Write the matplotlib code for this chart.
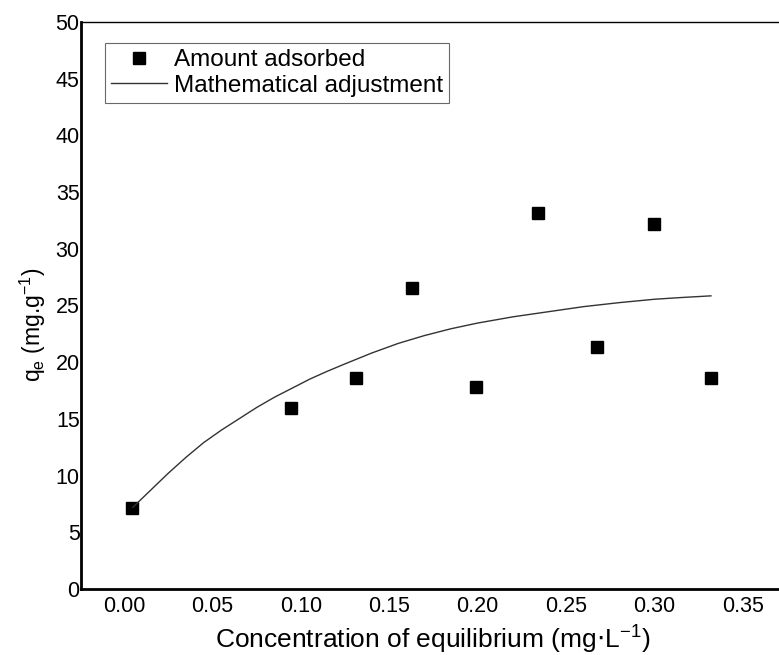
import matplotlib.pyplot as plt

plt.rcParams['font.family'] = ['Liberation Sans', 'DejaVu Sans']

# measured points
ce = [0.0045, 0.0945, 0.131, 0.163, 0.199, 0.234, 0.2675, 0.300, 0.332]
qe = [7.1, 16.0, 18.6, 26.5, 17.8, 33.2, 21.3, 32.2, 18.6]

# fitted curve
fit_x = [0.005, 0.015, 0.025, 0.035, 0.045, 0.055, 0.065, 0.075, 0.085, 0.095,
         0.105, 0.115, 0.125, 0.14, 0.155, 0.17, 0.185, 0.20, 0.22, 0.24,
         0.26, 0.28, 0.30, 0.315, 0.332]
fit_y = [7.2, 8.7, 10.2, 11.6, 12.9, 14.0, 15.0, 16.0, 16.9, 17.7,
         18.5, 19.2, 19.85, 20.8, 21.65, 22.35, 22.95, 23.45, 24.0, 24.45,
         24.9, 25.25, 25.55, 25.7, 25.85]

xticks = [0.00, 0.05, 0.10, 0.15, 0.20, 0.25, 0.30, 0.35]
yticks = [0, 5, 10, 15, 20, 25, 30, 35, 40, 45, 50]

fig = plt.figure(figsize=(7.79, 6.55), dpi=100)
ax = fig.add_axes([0.104, 0.1008, 0.896, 0.8656])

ax.plot(ce, qe, 's', color='black', ms=9, label='Amount adsorbed')
ax.plot(fit_x, fit_y, '-', color='#333333', lw=1.0, label='Mathematical adjustment')

ax.set_xlim(-0.0243, 0.3705)
ax.set_ylim(0, 50)
ax.set_xticks(xticks)
ax.set_xticklabels([f'{v:.2f}' for v in xticks])
ax.set_yticks(yticks)
ax.tick_params(axis='both', length=0, labelsize=15.5)
ax.tick_params(axis='x', pad=5)
ax.tick_params(axis='y', pad=1)

ax.spines['left'].set_linewidth(2)
ax.spines['bottom'].set_linewidth(2)
ax.spines['top'].set_linewidth(1)
ax.spines['right'].set_visible(False)

ax.set_xlabel(r'Concentration of equilibrium (mg$\cdot$L$^{\mathregular{-1}}$)', fontsize=19)
ax.xaxis.set_label_coords(0.504, -0.058)
ax.set_ylabel(r'q$_\mathregular{e}$ (mg.g$^{\mathregular{-1}}$)', fontsize=16.5)
ax.yaxis.set_label_coords(-0.047, 0.466)

leg = ax.legend(loc='upper left', bbox_to_anchor=(0.034, 0.963), borderaxespad=0,
                fontsize=17.5, frameon=True, fancybox=False, edgecolor='#444444',
                handlelength=2.3, borderpad=0.25, labelspacing=0.15, handletextpad=0.3)
leg.get_frame().set_linewidth(0.8)

fig.savefig('out.png', dpi=100)
